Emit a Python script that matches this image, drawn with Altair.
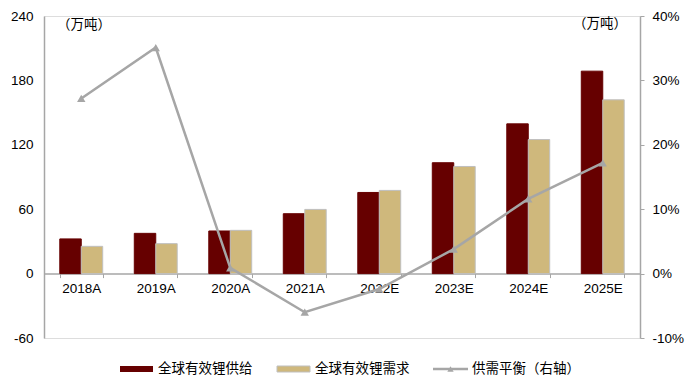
import altair as alt
import pandas as pd

years = ["2018A", "2019A", "2020A", "2021A", "2022E", "2023E", "2024E", "2025E"]
series = ["全球有效锂供给", "全球有效锂需求"]
supply = [32.3, 37.5, 39.7, 55.8, 75.6, 103.3, 139.5, 188.6]
demand = [25.4, 27.9, 40.3, 59.8, 77.5, 99.8, 124.9, 161.9]
balance = [27.2, 35.1, 0.9, -6.0, -2.4, 3.8, 11.6, 17.2]
line_name = "供需平衡（右轴）"
unit_text = "（万吨）"
left_ticks = [-60, 0, 60, 120, 180, 240]
right_ticks = [-10, -5, 0, 5, 10, 15, 20, 25, 30, 35, 40]

RED = "#660000"
TAN = "#CFB87C"
GRAY = "#A6A6A6"
NUM_FONT = "Liberation Sans"
CJK_FONT = "Noto Sans CJK SC"

W, H = 596, 322

rows = []
for i, y in enumerate(years):
    rows.append({"year": y, "series": series[0], "value": supply[i]})
    rows.append({"year": y, "series": series[1], "value": demand[i]})
df_bars = pd.DataFrame(rows)
df_line = pd.DataFrame({"year": years, "balance": balance})

zero_offset = H * (240 - 0) / 300 - H

bars = alt.Chart(df_bars).mark_bar(strokeWidth=1).encode(
    x=alt.X("year:N", sort=years,
            scale=alt.Scale(paddingInner=0.424, paddingOuter=0.212),
            axis=alt.Axis(title=None, orient="bottom", offset=zero_offset, labelAngle=0,
                          tickBand="extent", domainColor=GRAY, tickColor=GRAY, tickSize=4,
                          labelFont=NUM_FONT, labelFontSize=13.5, labelColor="#000000",
                          labelPadding=4, grid=False, domainWidth=1.5)),
    xOffset=alt.XOffset("series:N", sort=series, scale=alt.Scale(paddingInner=0, paddingOuter=0)),
    y=alt.Y("value:Q", scale=alt.Scale(domain=[-60, 240], nice=False, zero=False),
            axis=alt.Axis(title=None, values=left_ticks, ticks=False, grid=False,
                          domainColor=GRAY, domainWidth=1.5, labelExpr="'' + datum.value",
                          labelFont=NUM_FONT, labelFontSize=13.5, labelColor="#000000",
                          labelPadding=11)),
    color=alt.Color("series:N", sort=series, scale=alt.Scale(domain=series, range=[RED, TAN]), legend=None),
    stroke=alt.Stroke("series:N", sort=series, scale=alt.Scale(domain=series, range=[RED, "#BFBFBF"]), legend=None),
)

line = alt.Chart(df_line).mark_line(color=GRAY, strokeWidth=2.5).encode(
    x=alt.X("year:N", sort=years),
    y=alt.Y("balance:Q", scale=alt.Scale(domain=[-10, 40], nice=False, zero=False),
            axis=alt.Axis(title=None, orient="right", values=right_ticks, grid=False,
                          labelExpr="datum.value + '%'", tickSize=4, tickColor=GRAY,
                          domainColor=GRAY, domainWidth=1.5,
                          labelFont=NUM_FONT, labelFontSize=13.5, labelColor="#000000",
                          labelPadding=8)),
)
points = alt.Chart(df_line).mark_point(shape="triangle-up", filled=True, size=70,
                                      color=GRAY, opacity=1).encode(
    x=alt.X("year:N", sort=years),
    y=alt.Y("balance:Q"),
)
right = alt.layer(line, points)

one = pd.DataFrame({"a": [0]})

def txt(s, x, y, align="left"):
    return alt.Chart(pd.DataFrame({"t": [s]})).mark_text(
        font=CJK_FONT, fontSize=13.5, align=align, baseline="middle", color="#000000"
    ).encode(x=alt.value(x), y=alt.value(y), text="t:N")

unit_l = txt(unit_text, 13, 9)
unit_r = txt(unit_text, 529, 8)

sw1 = alt.Chart(one).mark_rect(color=RED).encode(
    x=alt.value(76), x2=alt.value(109), y=alt.value(350), y2=alt.value(356))
sw2 = alt.Chart(one).mark_rect(color=TAN, stroke="#BFBFBF", strokeWidth=1).encode(
    x=alt.value(233), x2=alt.value(266), y=alt.value(350), y2=alt.value(356))
lg_line = alt.Chart(one).mark_rule(color=GRAY, strokeWidth=2.5).encode(
    x=alt.value(389), x2=alt.value(424), y=alt.value(353))
lg_pt = alt.Chart(one).mark_point(shape="triangle-up", filled=True, size=40,
                                 color=GRAY, opacity=1).encode(
    x=alt.value(406.5), y=alt.value(353))
t1 = txt(series[0], 114, 353)
t2 = txt(series[1], 271, 353)
t3 = txt(line_name, 428, 353)

chart = alt.layer(
    bars, right, unit_l, unit_r, sw1, sw2, lg_line, lg_pt, t1, t2, t3
).resolve_scale(y="independent").properties(
    width=W, height=H,
    autosize=alt.AutoSizeParams(type="none"),
    padding={"left": 36, "top": 8, "right": 52, "bottom": 45},
).configure_view(stroke=None).configure(background="white")

chart.save("out.html", embed_options={"renderer": "svg", "actions": False})
